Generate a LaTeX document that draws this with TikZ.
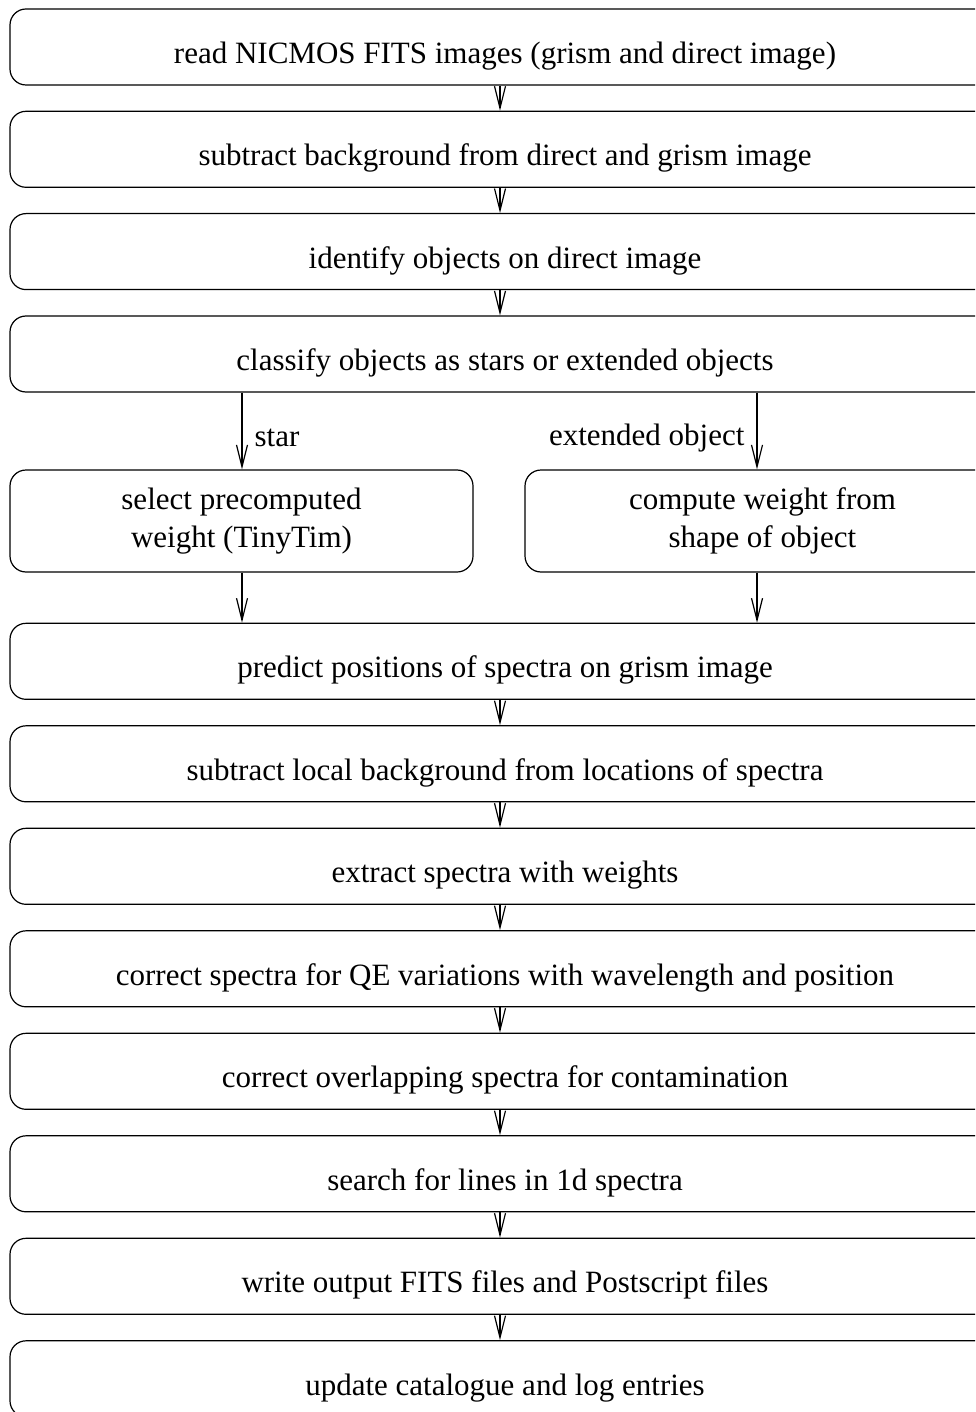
\documentclass[tikz,border=0pt]{standalone}
\usepackage{fontspec}
\setmainfont{Liberation Serif}
\usetikzlibrary{arrows.meta}
\begin{document}
\begin{tikzpicture}[x=1pt,y=-1pt,
  stepbox/.style={draw=black, line width=1.2pt, rounded corners=16pt,
    inner sep=0pt, align=center, font=\fontsize{31}{38}\selectfont},
  widebox/.style={stepbox, minimum width=990pt, minimum height=76pt,
    text height=33pt, text depth=0pt},
  halfbox/.style={stepbox, minimum height=102pt},
  flow/.style={line width=1.2pt, -{Straight Barb[length=22pt,width=11pt,line width=1.2pt]}},
  branch/.style={font=\fontsize{31}{38}\selectfont, inner sep=0pt}
]
\useasboundingbox (0,0) rectangle (975,1412);
\begin{scope}
\clip (0,0) rectangle (975,1412);

% main processing chain, upper part
\node[widebox] (b1) at (505,47)    {read NICMOS FITS images (grism and direct image)};
\node[widebox] (b2) at (505,149.3) {subtract background from direct and grism image};
\node[widebox] (b3) at (505,251.6) {identify objects on direct image};
\node[widebox] (b4) at (505,354)   {classify objects as stars or extended objects};

% the two branches
\node[halfbox, minimum width=463pt] (ls) at (241.5,521) {select precomputed\\weight (TinyTim)};
\node[halfbox, minimum width=475pt] (rs) at (762.5,521) {compute weight from\\shape of object};

% main processing chain, lower part
\node[widebox] (b5)  at (505,661.3)  {predict positions of spectra on grism image};
\node[widebox] (b6)  at (505,763.8)  {subtract local background from locations of spectra};
\node[widebox] (b7)  at (505,866.3)  {extract spectra with weights};
\node[widebox] (b8)  at (505,968.8)  {correct spectra for QE variations with wavelength and position};
\node[widebox] (b9)  at (505,1071.3) {correct overlapping spectra for contamination};
\node[widebox] (b10) at (505,1173.8) {search for lines in 1d spectra};
\node[widebox] (b11) at (505,1276.3) {write output FITS files and Postscript files};
\node[widebox] (b12) at (505,1378.8) {update catalogue and log entries};

% straight connectors along the chain
\foreach \a/\b in {b1/b2, b2/b3, b3/b4, b5/b6, b6/b7, b7/b8, b8/b9, b9/b10, b10/b11, b11/b12}
  \draw[flow] ([xshift=-5pt]\a.south) -- ([xshift=-5pt]\b.north);

% branching connectors
\coordinate (lx) at (242,0);
\coordinate (rx) at (757,0);
\draw[flow] (b4.south -| lx) -- (ls.north -| lx) node[branch, midway, anchor=west, xshift=12pt, yshift=-7pt] {star};
\draw[flow] (b4.south -| rx) -- (rs.north -| rx) node[branch, midway, anchor=east, xshift=-12pt, yshift=-7pt] {extended object};
\draw[flow] (ls.south -| lx) -- (b5.north -| lx);
\draw[flow] (rs.south -| rx) -- (b5.north -| rx);
\end{scope}
\end{tikzpicture}
\end{document}
